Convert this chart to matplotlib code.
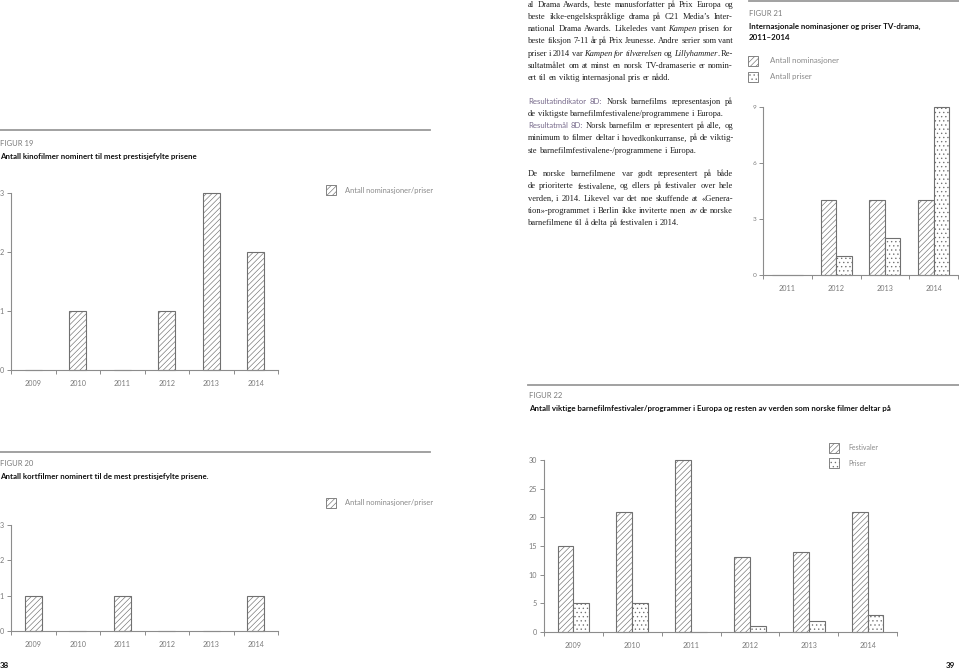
import matplotlib
matplotlib.use('Agg')
import matplotlib.pyplot as plt
from matplotlib.patches import Rectangle
from matplotlib.lines import Line2D

# ---------------- data ----------------
years6 = ['2009', '2010', '2011', '2012', '2013', '2014']
fig19_values = [0, 1, 0, 1, 3, 2]
fig20_values = [1, 0, 1, 0, 0, 1]
fig1920_yticks = [0, 1, 2, 3]

years4 = ['2011', '2012', '2013', '2014']
fig21_nominasjoner = [0, 4, 4, 4]
fig21_priser = [0, 1, 2, 9]
fig21_yticks = [0, 3, 6, 9]

fig22_festivaler = [15, 21, 30, 13, 14, 21]
fig22_priser = [5, 5, 0, 1, 2, 3]
fig22_yticks = [0, 5, 10, 15, 20, 25, 30]

legend_single = 'Antall nominasjoner/priser'
legend21 = ['Antall nominasjoner', 'Antall priser']
legend22 = ['Festivaler', 'Priser']

title19 = 'Antall kinofilmer nominert til mest prestisjefylte prisene'
title20 = 'Antall kortfilmer nominert til de mest prestisjefylte prisene.'
title21 = ['Internasjonale nominasjoner og priser TV-drama,', '2011\u20132014']
title22 = 'Antall viktige barnefilmfestivaler/programmer i Europa og resten av verden som norske filmer deltar på'

# body text: (line, justified?)
para1 = [
    ('al Drama Awards, beste manusforfatter på Prix Europa og', True),
    ('beste ikke-engelskspråklige drama på C21 Media\u2019s Inter-', True),
    ('national Drama Awards. Likeledes vant *Kampen* prisen for', True),
    ('beste fiksjon 7-11 år på Prix Jeunesse. Andre serier som vant', True),
    ('priser i 2014 var *Kampen for tilværelsen* og *Lillyhammer*. Re-', True),
    ('sultatmålet om at minst en norsk TV-dramaserie er nomin-', True),
    ('ert til en viktig internasjonal pris er nådd.', False),
]
para2 = [
    ('[Resultatindikator 8D:] Norsk barnefilms representasjon på', True),
    ('de viktigste barnefilmfestivalene/programmene i Europa.', False),
    ('[Resultatmål 8D:] Norsk barnefilm er representert på alle, og', True),
    ('minimum to filmer deltar i hovedkonkurranse, på de viktig-', True),
    ('ste barnefilmfestivalene-/programmene i Europa.', False),
]
para3 = [
    ('De norske barnefilmene var godt representert på både', True),
    ('de prioriterte festivalene, og ellers på festivaler over hele', True),
    ('verden, i 2014. Likevel var det noe skuffende at «Genera-', True),
    ('tion»-programmet i Berlin ikke inviterte noen av de norske', True),
    ('barnefilmene til å delta på festivalen i 2014.', False),
]

# ---------------- setup ----------------
W, H = 959, 671
plt.rcParams['font.family'] = ['Lato', 'DejaVu Sans']
plt.rcParams['hatch.linewidth'] = 0.45

fig = plt.figure(figsize=(W / 100, H / 100), dpi=100)
fig.patch.set_facecolor('white')

AX = '#8c8c8c'
LBL = '#7a7a7a'
EDGE = '#707070'
RULE = '#9a9a9a'
HATCH = '//////'
DOTS = '....'
TITLE_FS = 5.7
FIG_FS = 5.5
LEG_FS = 5.4
TICK_FS = 5.2


def fx(x):
    return x / W


def fy(y):
    return 1 - y / H


def add_ax(l, t, r, b):
    return fig.add_axes([fx(l), fy(b), (r - l) / W, (b - t) / H])


def txt(x, y, s, **kw):
    kw.setdefault('va', 'center')
    kw.setdefault('ha', 'left')
    return fig.text(fx(x), fy(y), s, **kw)


def rule(x0, x1, y):
    fig.add_artist(Line2D([fx(x0), fx(x1)], [fy(y), fy(y)], transform=fig.transFigure,
                          color=RULE, lw=1.3))


def swatch(x, y, hatch, w=10, h=10):
    fig.add_artist(Rectangle((fx(x), fy(y + h)), w / W, h / H, transform=fig.transFigure,
                             facecolor='white', edgecolor=EDGE, lw=0.6, hatch=hatch))


def style_axis(ax, ncat, labels, yticks, fs, yfs=None):
    ax.set_xlim(-0.5, ncat - 0.5)
    ax.set_ylim(0, yticks[-1])
    for s in ['top', 'right']:
        ax.spines[s].set_visible(False)
    for s in ['left', 'bottom']:
        ax.spines[s].set_color(AX)
        ax.spines[s].set_linewidth(0.8)
    ax.set_yticks(yticks)
    ax.set_yticklabels([str(v) for v in yticks])
    ax.tick_params(axis='y', length=3, width=0.7, color=AX, labelcolor=LBL,
                   labelsize=yfs or fs, pad=2)
    ax.set_xticks(range(ncat))
    ax.set_xticklabels(labels)
    ax.set_xticks([i - 0.5 for i in range(ncat + 1)], minor=True)
    ax.tick_params(axis='x', which='major', length=0, labelcolor=LBL, labelsize=fs, pad=7)
    ax.tick_params(axis='x', which='minor', length=3, width=0.7, color=AX)
    ax.patch.set_alpha(0)


# ---------------- FIGUR 19 ----------------
rule(0, 430, 130)
txt(0, 143, 'FIGUR 19', fontsize=FIG_FS, color=LBL)
txt(0, 156, title19, fontsize=TITLE_FS, fontweight='bold', color='#111')
swatch(326, 185, HATCH)
txt(345, 190, legend_single, fontsize=LEG_FS, color='#8a8a8a')
ax19 = add_ax(11, 193, 278, 370)
ax19.bar(range(len(years6)), fig19_values, width=0.38, facecolor='white',
         edgecolor=EDGE, linewidth=0.8, hatch=HATCH, clip_on=False)
style_axis(ax19, 6, years6, fig1920_yticks, TICK_FS)

# ---------------- FIGUR 20 ----------------
rule(0, 430, 452)
txt(0, 464, 'FIGUR 20', fontsize=FIG_FS, color=LBL)
txt(0, 477, title20, fontsize=TITLE_FS, fontweight='bold', color='#111')
swatch(326, 498, HATCH)
txt(345, 503, legend_single, fontsize=LEG_FS, color='#8a8a8a')
ax20 = add_ax(11, 525, 278, 631)
ax20.bar(range(len(years6)), fig20_values, width=0.38, facecolor='white',
         edgecolor=EDGE, linewidth=0.8, hatch=HATCH, clip_on=False)
style_axis(ax20, 6, years6, fig1920_yticks, TICK_FS)
txt(0, 665, '38', fontsize=5.8, fontweight='bold', color='#111')

# ---------------- FIGUR 21 ----------------
rule(749, 959, 1)
txt(749, 13, 'FIGUR 21', fontsize=FIG_FS, color=LBL)
txt(749, 26, title21[0], fontsize=TITLE_FS, fontweight='bold', color='#111')
txt(749, 38, title21[1], fontsize=TITLE_FS, fontweight='bold', color='#111')
swatch(748, 56, HATCH)
txt(770, 61, legend21[0], fontsize=5.7, color='#8a8a8a')
swatch(748, 72, DOTS)
txt(770, 77, legend21[1], fontsize=5.7, color='#8a8a8a')
ax21 = add_ax(763, 107, 958, 275)
x4 = list(range(len(years4)))
ax21.bar([i - 0.16 for i in x4], fig21_nominasjoner, width=0.32, facecolor='white',
         edgecolor=EDGE, linewidth=0.8, hatch=HATCH, clip_on=False)
ax21.bar([i + 0.16 for i in x4], fig21_priser, width=0.32, facecolor='white',
         edgecolor=EDGE, linewidth=0.8, hatch=DOTS, clip_on=False)
style_axis(ax21, 4, years4, fig21_yticks, TICK_FS, yfs=4.6)

# ---------------- FIGUR 22 ----------------
rule(528, 959, 385)
txt(529, 396, 'FIGUR 22', fontsize=FIG_FS, color=LBL)
txt(529, 409, title22, fontsize=TITLE_FS, fontweight='bold', color='#111')
swatch(829, 443, HATCH)
txt(848, 448, legend22[0], fontsize=5.0, color='#8a8a8a')
swatch(829, 458, DOTS)
txt(848, 463, legend22[1], fontsize=5.0, color='#8a8a8a')
ax22 = add_ax(544, 460, 897, 632)
x6 = list(range(len(years6)))
ax22.bar([i - 0.135 for i in x6], fig22_festivaler, width=0.27, facecolor='white',
         edgecolor=EDGE, linewidth=0.8, hatch=HATCH, clip_on=False)
ax22.bar([i + 0.135 for i in x6], fig22_priser, width=0.27, facecolor='white',
         edgecolor=EDGE, linewidth=0.8, hatch=DOTS, clip_on=False)
style_axis(ax22, 6, years6, fig22_yticks, TICK_FS)
txt(955, 665, '39', fontsize=5.8, fontweight='bold', color='#111', ha='right')

# ---------------- body text (justified) ----------------
SERIF = ['Liberation Serif', 'DejaVu Serif']
BODY_FS = 6.15
renderer = fig.canvas.get_renderer()


def parse(line):
    words, cur, buf, style = [], [], '', 'r'
    for ch in line:
        if ch in '*[] ':
            if buf:
                cur.append((buf, style))
                buf = ''
            if ch == '*':
                style = 'r' if style == 'i' else 'i'
            elif ch == '[':
                style = 's'
            elif ch == ']':
                style = 'r'
            elif ch == ' ' and cur:
                words.append(cur)
                cur = []
        else:
            buf += ch
    if buf:
        cur.append((buf, style))
    if cur:
        words.append(cur)
    return words


def piece_kw(style):
    if style == 'i':
        return dict(family=SERIF, style='italic', fontsize=BODY_FS, color='#1e1e1e')
    if style == 's':
        return dict(family=['Lato', 'DejaVu Sans'], fontsize=5.6, color='#76698a')
    return dict(family=SERIF, fontsize=BODY_FS, color='#1e1e1e')


def width_of(t):
    return t.get_window_extent(renderer).width


tmp1 = fig.text(0, 0, 'a a', **piece_kw('r'))
tmp2 = fig.text(0, 0, 'aa', **piece_kw('r'))
SPACE = width_of(tmp1) - width_of(tmp2)
tmp1.remove()
tmp2.remove()

X0, X1 = 528, 733


def place_lines(lines, y0, dy):
    for k, (line, just) in enumerate(lines):
        yb = y0 + k * dy + 2.3
        words = parse(line)
        built = []
        for w in words:
            arts = []
            for s, st in w:
                t = fig.text(0, fy(yb), s, va='baseline', ha='left', **piece_kw(st))
                arts.append((t, width_of(t)))
            built.append(arts)
        wwidths = [sum(a[1] for a in arts) for arts in built]
        total = sum(wwidths)
        if just and len(built) > 1:
            gap = max((X1 - X0 - total) / (len(built) - 1), 0.7 * SPACE)
        else:
            gap = SPACE
        x = X0
        for arts, ww in zip(built, wwidths):
            xx = x
            for t, pw in arts:
                t.set_x(fx(xx))
                xx += pw
            x += ww + gap


place_lines(para1, 4.8, 12.1)
place_lines(para2, 101.5, 12.2)
place_lines(para3, 174.0, 12.15)

fig.savefig('out.png', dpi=100, facecolor='white')
